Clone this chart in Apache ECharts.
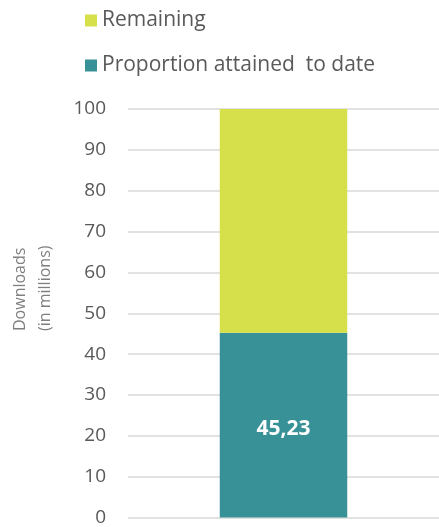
<!DOCTYPE html>
<html><head><meta charset="utf-8">
<script src="https://cdn.jsdelivr.net/npm/echarts@6/dist/echarts.min.js"></script>
<style>html,body{margin:0;padding:0;background:#fff}#c{width:439px;height:527px}</style>
</head><body><div id="c"></div>
<script>
const categories = [''];
const attained = [45.23];
const remaining = [54.77];
const seriesNames = ['Proportion attained  to date', 'Remaining'];
const yTicks = [0, 100, 10];
const yAxisTitle = 'Downloads\n(in millions)';

const chart = echarts.init(document.getElementById('c'), null, {renderer: 'canvas'});
chart.setOption({
  animation: false,
  legend: {
    orient: 'vertical', left: 80, top: 5,
    data: [seriesNames[1], seriesNames[0]],
    itemWidth: 12, itemHeight: 12, itemGap: 24,
    icon: 'rect',
    textStyle: {fontSize: 21, color: '#595959', fontFamily: 'Open Sans'}
  },
  graphic: [{
    type: 'text', x: 33, y: 331, rotation: Math.PI / 2,
    style: {text: yAxisTitle, textAlign: 'left', textVerticalAlign: 'middle',
            fontSize: 16, lineHeight: 25, fill: '#7f7f7f', fontFamily: 'Open Sans'}
  }],
  grid: {left: 128, right: 0, top: 109, bottom: 9},
  xAxis: {
    type: 'category', data: categories,
    axisLine: {show: false}, axisTick: {show: false}, axisLabel: {show: false}
  },
  yAxis: {
    type: 'value', min: yTicks[0], max: yTicks[1], interval: yTicks[2],
    axisLabel: {fontSize: 19, color: '#595959', fontFamily: 'Open Sans', margin: 22},
    axisLine: {show: false}, axisTick: {show: false},
    splitLine: {lineStyle: {color: '#d9d9d9', width: 1.5}}
  },
  series: [
    {name: seriesNames[0], type: 'bar', stack: 's', data: attained, barWidth: '41%',
     itemStyle: {color: '#389197'},
     label: {show: true, position: 'inside', offset: [0, 4], color: '#fff', fontWeight: 'bold', fontSize: 21,
             fontFamily: 'Open Sans', formatter: p => String(p.value).replace('.', ',')}},
    {name: seriesNames[1], type: 'bar', stack: 's', data: remaining, barWidth: '41%',
     itemStyle: {color: '#d5e04a'}}
  ]
});
</script></body></html>
